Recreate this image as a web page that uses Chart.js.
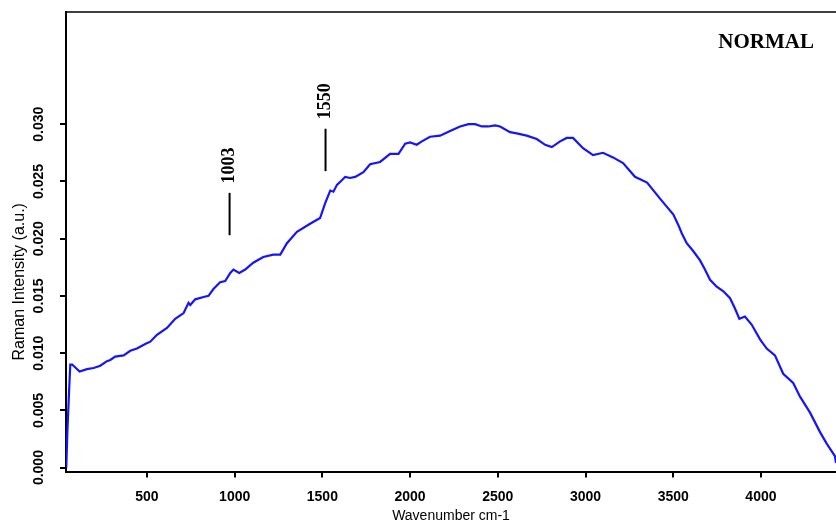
<!DOCTYPE html>
<html>
<head>
<meta charset="utf-8">
<script src="https://cdn.jsdelivr.net/npm/chart.js@4.4.0/dist/chart.umd.min.js"></script>
<style>
    html, body { margin: 0; padding: 0; background: #fff; }
    #wrap { width: 836px; height: 525px; }
</style>
</head>
<body>
<div id="wrap"><canvas id="raman"></canvas></div>
<script>
const wavenumber = [40, 46, 57, 63, 74, 116, 158, 196, 234, 272, 291, 319, 367, 405, 443, 490, 519, 557, 614, 661,
    709, 737, 747, 775, 823, 851, 879, 917, 946, 975, 993, 1026, 1060, 1106, 1163, 1220, 1260, 1298, 1355, 1430,
    1487, 1516, 1545, 1563, 1583, 1611, 1630, 1658, 1687, 1734, 1772, 1829, 1886, 1934, 1972, 2000, 2038, 2067, 2114, 2171,
    2228, 2285, 2333, 2371, 2409, 2446, 2485, 2513, 2570, 2608, 2665, 2722, 2770, 2808, 2855, 2893, 2929, 2986, 3043, 3100,
    3157, 3214, 3282, 3351, 3425, 3463, 3501, 3529, 3548, 3577, 3615, 3653, 3681, 3710, 3748, 3786, 3824, 3852, 3877, 3909,
    3947, 3995, 4033, 4080, 4127, 4184, 4223, 4280, 4337, 4375, 4422, 4428];
const intensity = [0.0000, 0.0030, 0.0070, 0.0090, 0.0090, 0.0084, 0.0086, 0.0087, 0.0089, 0.0093, 0.0094, 0.0097, 0.0098, 0.0102, 0.0104, 0.0108, 0.0110, 0.0116, 0.0122, 0.0130,
    0.0135, 0.0144, 0.0142, 0.0147, 0.0149, 0.0150, 0.0156, 0.0162, 0.0163, 0.0170, 0.0173, 0.0170, 0.0173, 0.0179, 0.0184, 0.0186, 0.0186, 0.0196, 0.0206, 0.0213,
    0.0218, 0.0231, 0.0242, 0.0241, 0.0247, 0.0251, 0.0254, 0.0253, 0.0254, 0.0258, 0.0265, 0.0267, 0.0274, 0.0274, 0.0283, 0.0284, 0.0282, 0.0285, 0.0289, 0.0290,
    0.0294, 0.0298, 0.0300, 0.0300, 0.0298, 0.0298, 0.0299, 0.0298, 0.0293, 0.0292, 0.0290, 0.0287, 0.0282, 0.0280, 0.0285, 0.0288, 0.0288, 0.0279, 0.0273, 0.0275,
    0.0271, 0.0266, 0.0254, 0.0249, 0.0235, 0.0228, 0.0221, 0.0212, 0.0205, 0.0196, 0.0189, 0.0181, 0.0173, 0.0164, 0.0158, 0.0154, 0.0148, 0.0139, 0.0130, 0.0132,
    0.0125, 0.0112, 0.0104, 0.0098, 0.0082, 0.0074, 0.0062, 0.0048, 0.0031, 0.0021, 0.0010, 0.0004];

const xTicks = [500, 1000, 1500, 2000, 2500, 3000, 3500, 4000];
const yTicks = [0, 0.005, 0.010, 0.015, 0.020, 0.025, 0.030];

// peak markers (drawn position, label, bar from/to, label centre)
const peakWave = [971, 1518];
const peakLabel = ['1003', '1550'];
const peakFrom = [0.0203, 0.0259];
const peakTo = [0.0240, 0.0296];
const peakText = [0.0264, 0.0320];

const sampleName = 'NORMAL';
const xTitle = 'Wavenumber cm-1';
const yTitle = 'Raman Intensity (a.u.)';

Chart.defaults.font.family = "'Liberation Sans', Arial, sans-serif";
Chart.defaults.color = '#000';

const annotate = {
    id: 'annotate',
    afterDatasetsDraw(chart) {
        const { ctx, chartArea, scales: { x, y } } = chart;
        ctx.save();

        // top frame line
        ctx.strokeStyle = '#000';
        ctx.lineWidth = 1.5;
        ctx.beginPath();
        ctx.moveTo(chartArea.left, chartArea.top);
        ctx.lineTo(chartArea.right, chartArea.top);
        ctx.stroke();

        // peak marks
        ctx.lineWidth = 2;
        ctx.font = "bold 18px 'Liberation Serif', 'Times New Roman', serif";
        ctx.textAlign = 'center';
        ctx.textBaseline = 'middle';
        ctx.fillStyle = '#000';
        peakWave.forEach((w, i) => {
            const px = x.getPixelForValue(w);
            ctx.beginPath();
            ctx.moveTo(px, y.getPixelForValue(peakFrom[i]));
            ctx.lineTo(px, y.getPixelForValue(peakTo[i]));
            ctx.stroke();

            ctx.save();
            ctx.translate(px, y.getPixelForValue(peakText[i]));
            ctx.rotate(-Math.PI / 2);
            ctx.fillText(peakLabel[i], 0, 0);
            ctx.restore();
        });

        // sample name
        ctx.font = "bold 21px 'Liberation Serif', 'Times New Roman', serif";
        ctx.textAlign = 'right';
        ctx.textBaseline = 'alphabetic';
        ctx.fillText(sampleName, chartArea.right - 22, chartArea.top + 36);

        // y axis title
        ctx.font = "16px 'Liberation Sans', Arial, sans-serif";
        ctx.textAlign = 'center';
        ctx.textBaseline = 'middle';
        ctx.translate(chartArea.left - 46, (chartArea.top + chartArea.bottom) / 2 + 40);
        ctx.rotate(-Math.PI / 2);
        ctx.fillText(yTitle, 0, 0);

        ctx.restore();
    }
};

const data = {
    datasets: [{
        label: sampleName,
        data: wavenumber.map((w, i) => ({ x: w, y: intensity[i] })),
        borderColor: '#1414ff',
        borderWidth: 2.2,
        pointRadius: 0,
        tension: 0,
        fill: false,
    }]
};

const config = {
    type: 'line',
    data: data,
    options: {
        responsive: true,
        maintainAspectRatio: false,
        animation: false,
        layout: {
            padding: { left: 30, top: 12, right: 0, bottom: 0 }
        },
        plugins: {
            legend: { display: false },
            tooltip: { enabled: false },
        },
        scales: {
            x: {
                type: 'linear',
                min: 38.5,
                max: 4428,
                afterBuildTicks: (scale) => { scale.ticks = xTicks.map(v => ({ value: v })); },
                afterFit: (scale) => { scale.height = 53.4; },
                grid: { drawOnChartArea: false, color: '#000', lineWidth: 2, tickLength: 6 },
                border: { color: '#000', width: 2 },
                ticks: {
                    padding: 11,
                    maxRotation: 0,
                    font: { size: 14, weight: 'bold' },
                    callback: (v) => String(v),
                },
                title: {
                    display: true,
                    text: xTitle,
                    font: { size: 14 },
                    padding: { top: 3, bottom: 0 },
                },
            },
            y: {
                min: -0.00035,
                max: 0.0398,
                afterBuildTicks: (scale) => { scale.ticks = yTicks.map(v => ({ value: v })); },
                afterFit: (scale) => { scale.width = 36; },
                grid: { drawOnChartArea: false, color: '#000', lineWidth: 2, tickLength: 6 },
                border: { color: '#000', width: 2 },
                ticks: {
                    padding: 3,
                    minRotation: 90,
                    maxRotation: 90,
                    crossAlign: 'center',
                    font: { size: 14, weight: 'bold' },
                    callback: (v) => Number(v).toFixed(3),
                },
            },
        },
    },
    plugins: [annotate],
};

new Chart(document.getElementById('raman'), config);
</script>
</body>
</html>
